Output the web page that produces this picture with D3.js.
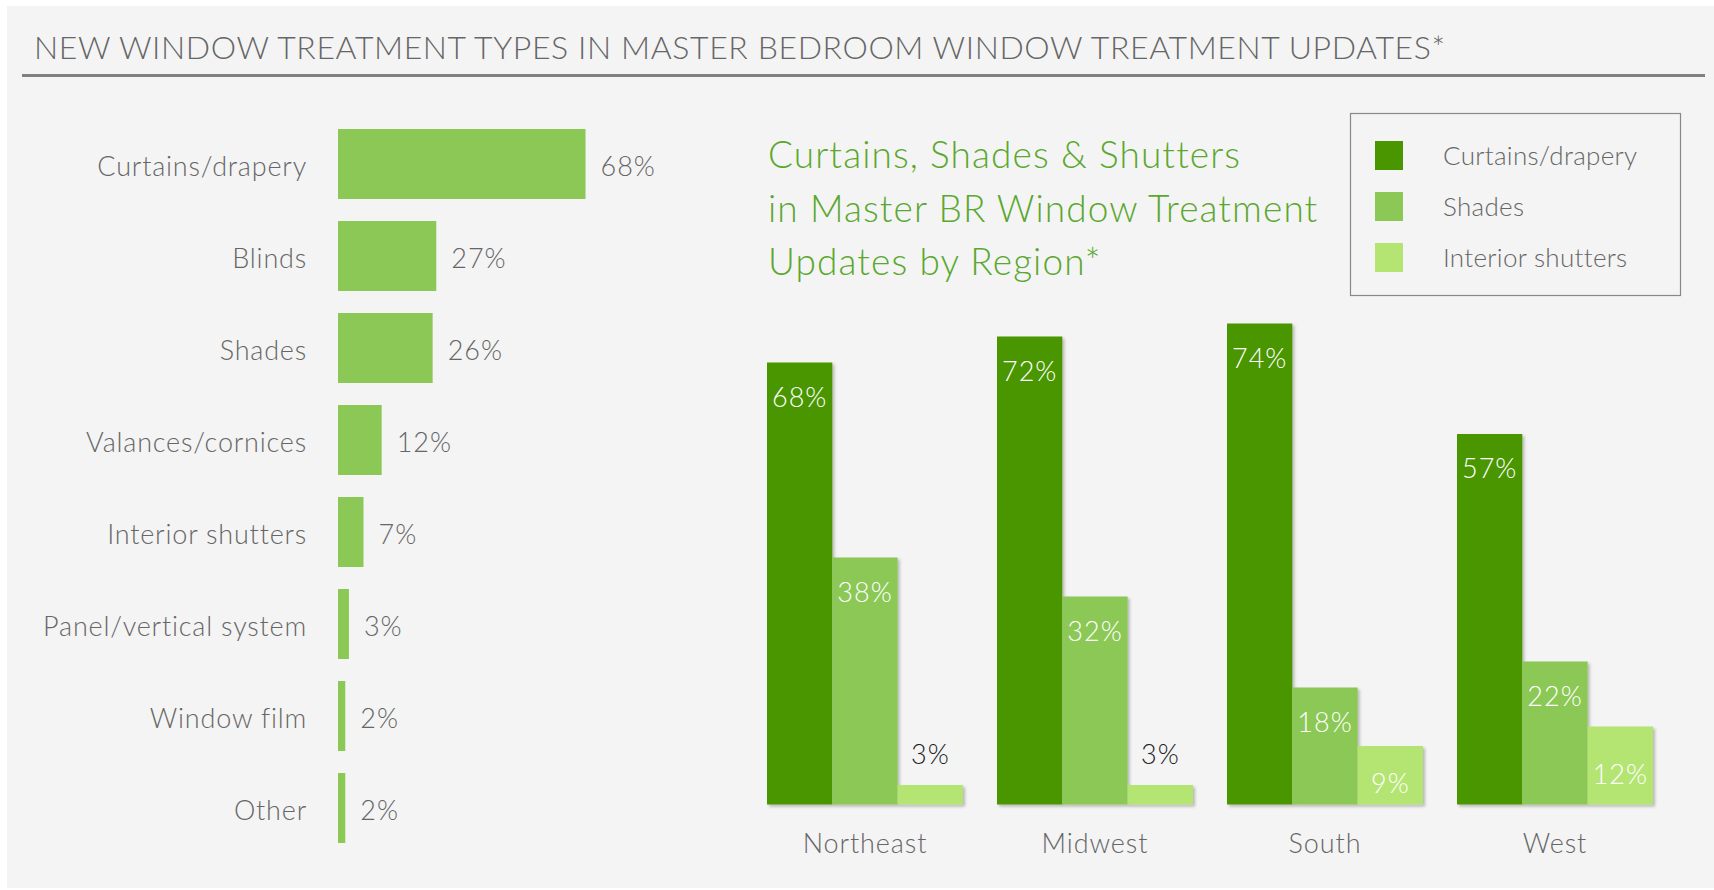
<!DOCTYPE html>
<html>
<head>
<meta charset="utf-8">
<script src="https://cdn.jsdelivr.net/npm/d3@7"></script>
<style>
  html, body { margin: 0; padding: 0; background: #ffffff; }
  svg { display: block; font-family: "Lato", "Open Sans", sans-serif; font-weight: 300; }
</style>
</head>
<body>
<div id="chart"></div>
<script>
// Left chart: all new window treatment types
const typeNames = ["Curtains/drapery", "Blinds", "Shades", "Valances/cornices",
    "Interior shutters", "Panel/vertical system", "Window film", "Other"];
const typeValues = [68, 27, 26, 12, 7, 3, 2, 2];

// Right chart: by region
const regions = ["Northeast", "Midwest", "South", "West"];
const seriesNames = ["Curtains/drapery", "Shades", "Interior shutters"];
const curtainsByRegion = [68, 72, 74, 57];
const shadesByRegion = [38, 32, 18, 22];
const shuttersByRegion = [3, 3, 9, 12];

const titleText = "NEW WINDOW TREATMENT TYPES IN MASTER BEDROOM WINDOW TREATMENT UPDATES*";
const subtitleLines = ["Curtains, Shades & Shutters", "in Master BR Window Treatment", "Updates by Region*"];

const width = 1714, height = 890;
const seriesColors = ["#4a9600", "#8bc855", "#b4e572"];

const svg = d3.select("#chart")
    .append("svg")
    .attr("width", width)
    .attr("height", height);

// soft shadow under the region bars
const defs = svg.append("defs");
defs.append("filter")
    .attr("id", "shadow")
    .attr("x", "-10%").attr("y", "-10%")
    .attr("width", "130%").attr("height", "130%")
    .append("feDropShadow")
    .attr("dx", 2).attr("dy", 2)
    .attr("stdDeviation", 1.5)
    .attr("flood-color", "#000")
    .attr("flood-opacity", 0.25);

// panel background
svg.append("rect")
    .attr("x", 7).attr("y", 6)
    .attr("width", width - 7).attr("height", 882)
    .attr("fill", "#f4f4f4");

// page title + rule
svg.append("text")
    .attr("x", 34).attr("y", 59)
    .attr("fill", "#666")
    .style("font-size", "32px")
    .style("letter-spacing", "0.6px")
    .text(titleText);

svg.append("line")
    .attr("x1", 22).attr("x2", 1705)
    .attr("y1", 75.5).attr("y2", 75.5)
    .attr("stroke", "#808080")
    .attr("stroke-width", 3);

// ---------- left horizontal bars ----------
const leftX = d3.scaleLinear().domain([0, 100]).range([338, 702]);
const leftY = d3.scaleBand()
    .domain(typeNames)
    .range([129, 843])
    .paddingInner(22 / 92)
    .paddingOuter(0);

const left = svg.append("g").attr("class", "left-chart");

left.selectAll(".type-bar")
    .data(typeValues)
    .enter()
    .append("rect")
    .attr("class", "type-bar")
    .attr("x", leftX(0))
    .attr("y", (d, i) => leftY(typeNames[i]))
    .attr("width", d => leftX(d) - leftX(0))
    .attr("height", leftY.bandwidth())
    .attr("fill", "#8bc855");

left.selectAll(".type-label")
    .data(typeNames)
    .enter()
    .append("text")
    .attr("class", "type-label")
    .attr("x", 307)
    .attr("y", d => leftY(d) + leftY.bandwidth() / 2)
    .attr("dy", "0.44em")
    .attr("text-anchor", "end")
    .attr("fill", "#666")
    .style("font-size", "27px")
    .style("letter-spacing", "0.8px")
    .text(d => d);

left.selectAll(".type-value")
    .data(typeValues)
    .enter()
    .append("text")
    .attr("class", "type-value")
    .attr("x", d => leftX(d) + 15)
    .attr("y", (d, i) => leftY(typeNames[i]) + leftY.bandwidth() / 2)
    .attr("dy", "0.44em")
    .attr("fill", "#666")
    .style("font-size", "27px")
    .style("letter-spacing", "1px")
    .text(d => d + "%");

// ---------- right grouped columns ----------
const right = svg.append("g").attr("class", "right-chart");

right.selectAll(".subtitle")
    .data(subtitleLines)
    .enter()
    .append("text")
    .attr("class", "subtitle")
    .attr("x", 768)
    .attr("y", (d, i) => 168 + i * 53.5)
    .attr("fill", "#5aa82e")
    .style("font-size", "37px")
    .style("letter-spacing", "1.1px")
    .text(d => d);

// legend
const legend = right.append("g").attr("class", "legend");
legend.append("rect")
    .attr("x", 1350.5).attr("y", 113.5)
    .attr("width", 330).attr("height", 182)
    .attr("fill", "none")
    .attr("stroke", "#888")
    .attr("stroke-width", 1.2);

const legendItems = legend.selectAll(".legend-item")
    .data(seriesNames)
    .enter()
    .append("g")
    .attr("class", "legend-item")
    .attr("transform", (d, i) => `translate(1375, ${141 + i * 51})`);

legendItems.append("rect")
    .attr("width", 28).attr("height", 29)
    .attr("fill", (d, i) => seriesColors[i]);

legendItems.append("text")
    .attr("x", 68).attr("y", 14.5)
    .attr("dy", "0.37em")
    .attr("fill", "#666")
    .style("font-size", "26px")
    .style("letter-spacing", "0.3px")
    .text(d => d);

const x0 = d3.scaleBand()
    .domain(regions)
    .range([767, 1653])
    .paddingInner(34 / 230)
    .paddingOuter(0);

const x1 = d3.scaleBand()
    .domain(seriesNames)
    .range([0, x0.bandwidth()])
    .padding(0);

const y = d3.scaleLinear().domain([0, 100]).range([804.5, 154.5]);

const seriesValues = [curtainsByRegion, shadesByRegion, shuttersByRegion];
const barData = [];
regions.forEach((r, ri) => {
    seriesNames.forEach((s, si) => {
        barData.push({ region: r, series: s, si: si, value: seriesValues[si][ri] });
    });
});

const groups = right.selectAll(".region")
    .data(regions)
    .enter()
    .append("g")
    .attr("class", "region")
    .attr("transform", d => `translate(${x0(d)}, 0)`);

groups.selectAll("rect")
    .data(r => barData.filter(b => b.region === r))
    .enter()
    .append("rect")
    .attr("x", d => x1(d.series))
    .attr("y", d => y(d.value))
    .attr("width", x1.bandwidth())
    .attr("height", d => y(0) - y(d.value))
    .attr("fill", d => seriesColors[d.si])
    .attr("filter", "url(#shadow)");

groups.selectAll(".bar-value")
    .data(r => barData.filter(b => b.region === r))
    .enter()
    .append("text")
    .attr("class", "bar-value")
    .attr("x", d => x1(d.series) + x1.bandwidth() / 2)
    .attr("y", d => {
        const h = y(0) - y(d.value);
        if (h < 30) return y(d.value) - 21;
        if (h < 100) return (y(0) + y(d.value)) / 2 + 18;
        return y(d.value) + 44;
    })
    .attr("text-anchor", "middle")
    .attr("fill", d => (y(0) - y(d.value) < 30) ? "#222" : "#fff")
    .style("font-size", "27px")
    .style("letter-spacing", "1px")
    .text(d => d.value + "%");

groups.append("text")
    .attr("class", "region-label")
    .attr("x", x0.bandwidth() / 2)
    .attr("y", 853)
    .attr("text-anchor", "middle")
    .attr("fill", "#666")
    .style("font-size", "27px")
    .style("letter-spacing", "0.9px")
    .text(d => d);
</script>
</body>
</html>
